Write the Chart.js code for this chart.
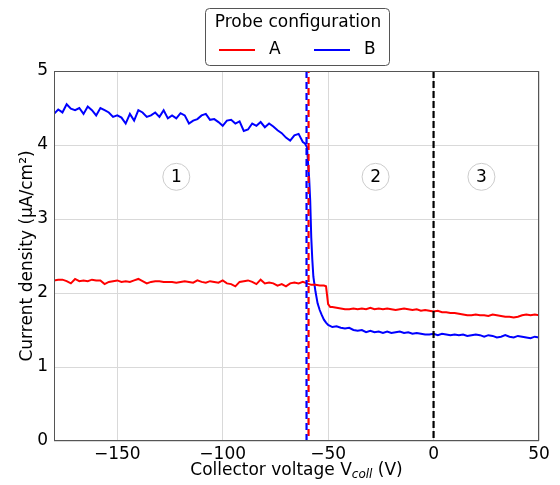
<!DOCTYPE html>
<html><head><meta charset="utf-8">
<script src="https://cdn.jsdelivr.net/npm/chart.js@4.4.1/dist/chart.umd.min.js"></script>
<style>html,body{margin:0;padding:0;background:#fff}#w{width:560px;height:485px}</style>
</head><body><div id="w"><canvas id="c" width="560" height="485"></canvas></div>
<script>
const seriesNames = ["A", "B"];
const seriesColors = ["#ff0000", "#0000ff"];
const xTicks = [-150, -100, -50, 0, 50];
const yTicks = [0, 1, 2, 3, 4, 5];
const regionLabels = ["1", "2", "3"];
const regionX = [-122, -27.5, 22.7];
const regionY = 3.57;
const markerX = [-60, 0];

const voltsA = [-180,-178,-176,-174,-172,-170,-168,-166,-164,-162,-160,-158,-156,-154,-152,-150,-148,-146,-144,-142,-140,-138,-136,-134,-132,-130,-128,-126,-124,-122,-120,-118,-116,-114,-112,-110,-108,-106,-104,-102,-100,-98,-96,-94,-92,-90,-88,-86,-84,-82,-80,-78,-76,-74,-72,-70,-68,-66,-64,-62,-60,-58,-56,-54,-52,-51,-50,-49,-48,-46,-44,-42,-40,-38,-36,-34,-32,-30,-28,-26,-24,-22,-20,-18,-16,-14,-12,-10,-8,-6,-4,-2,0,2,4,6,8,10,12,14,16,18,20,22,24,26,28,30,32,34,36,38,40,42,44,46,48,50];
const currentA = [2.17,2.18,2.18,2.16,2.13,2.19,2.16,2.17,2.16,2.18,2.17,2.17,2.12,2.15,2.16,2.17,2.15,2.16,2.15,2.17,2.19,2.16,2.13,2.15,2.16,2.16,2.15,2.15,2.15,2.14,2.15,2.16,2.15,2.14,2.17,2.15,2.14,2.16,2.15,2.14,2.17,2.13,2.12,2.09,2.15,2.16,2.17,2.15,2.12,2.18,2.13,2.14,2.13,2.10,2.12,2.09,2.13,2.14,2.13,2.15,2.13,2.11,2.11,2.10,2.10,2.09,1.85,1.81,1.81,1.80,1.79,1.78,1.78,1.79,1.78,1.79,1.78,1.80,1.78,1.79,1.78,1.79,1.78,1.77,1.78,1.79,1.78,1.77,1.78,1.76,1.77,1.76,1.75,1.76,1.74,1.74,1.73,1.73,1.72,1.71,1.70,1.70,1.71,1.70,1.70,1.69,1.71,1.70,1.69,1.68,1.68,1.67,1.68,1.70,1.71,1.70,1.71,1.70];

const voltsB = [-180,-178,-176,-174,-172,-170,-168,-166,-164,-162,-160,-158,-156,-154,-152,-150,-148,-146,-144,-142,-140,-138,-136,-134,-132,-130,-128,-126,-124,-122,-120,-118,-116,-114,-112,-110,-108,-106,-104,-102,-100,-98,-96,-94,-92,-90,-88,-86,-84,-82,-80,-78,-76,-74,-72,-70,-68,-66,-64,-62,-61,-60,-59.5,-59,-58.5,-58,-57.5,-57,-56,-55,-54,-53,-52,-51,-50,-48,-46,-44,-42,-40,-38,-36,-34,-32,-30,-28,-26,-24,-22,-20,-18,-16,-14,-12,-10,-8,-6,-4,-2,0,2,4,6,8,10,12,14,16,18,20,22,24,26,28,30,32,34,36,38,40,42,44,46,48,50];
const currentB = [4.42,4.48,4.44,4.55,4.49,4.47,4.50,4.42,4.52,4.47,4.40,4.50,4.47,4.44,4.38,4.40,4.37,4.29,4.42,4.33,4.47,4.44,4.38,4.40,4.44,4.38,4.47,4.36,4.40,4.36,4.43,4.40,4.29,4.33,4.35,4.40,4.42,4.34,4.35,4.31,4.26,4.33,4.34,4.29,4.32,4.19,4.21,4.29,4.26,4.31,4.24,4.29,4.25,4.20,4.16,4.10,4.06,4.13,4.15,4.04,4.02,3.97,3.75,3.55,3.25,2.75,2.45,2.22,2.02,1.86,1.77,1.70,1.64,1.60,1.57,1.54,1.55,1.53,1.52,1.53,1.50,1.49,1.50,1.47,1.49,1.47,1.48,1.46,1.48,1.46,1.47,1.48,1.46,1.47,1.45,1.46,1.45,1.44,1.44,1.45,1.43,1.45,1.44,1.43,1.44,1.43,1.44,1.42,1.43,1.44,1.43,1.41,1.43,1.42,1.40,1.41,1.43,1.41,1.40,1.42,1.41,1.40,1.39,1.41,1.40];

const FONT = "'DejaVu Sans', sans-serif";
const fmt = v => (v < 0 ? "\u2212" + Math.abs(v) : String(v));

const overlay = {
  id: 'overlay',
  afterDatasetsDraw(chart) {
    const ctx = chart.ctx, xs = chart.scales.x, ys = chart.scales.y, a = chart.chartArea;
    ctx.save();
    ctx.lineWidth = 2.2;
    const xm = xs.getPixelForValue(markerX[0]);
    ctx.setLineDash([7, 4]);
    ctx.strokeStyle = seriesColors[0];
    ctx.lineDashOffset = 5;
    ctx.beginPath(); ctx.moveTo(xm + 1.5, a.top); ctx.lineTo(xm + 1.5, a.bottom); ctx.stroke();
    ctx.strokeStyle = seriesColors[1];
    ctx.lineDashOffset = 0;
    ctx.beginPath(); ctx.moveTo(xm - 0.5, a.top); ctx.lineTo(xm - 0.5, a.bottom); ctx.stroke();
    const x0 = xs.getPixelForValue(markerX[1]);
    ctx.strokeStyle = '#000';
    ctx.setLineDash([7, 3]);
    ctx.beginPath(); ctx.moveTo(x0, a.top); ctx.lineTo(x0, a.bottom); ctx.stroke();
    ctx.setLineDash([]);
    regionLabels.forEach((t, i) => {
      const px = xs.getPixelForValue(regionX[i]), py = ys.getPixelForValue(regionY);
      ctx.beginPath(); ctx.arc(px, py, 13.5, 0, Math.PI * 2);
      ctx.fillStyle = '#fff'; ctx.fill();
      ctx.strokeStyle = '#cccccc'; ctx.lineWidth = 1; ctx.stroke();
      ctx.fillStyle = '#000'; ctx.font = "17px " + FONT;
      ctx.textAlign = 'center'; ctx.textBaseline = 'middle';
      ctx.fillText(t, px, py + 1);
    });
    ctx.strokeStyle = '#555'; ctx.lineWidth = 1;
    ctx.strokeRect(a.left + 0.5, a.top + 0.5, a.right - a.left - 1, a.bottom - a.top - 1);
    const cx = (a.left + a.right) / 2, ty = 469;
    const p1 = "Collector voltage V", p2 = "coll", p3 = " (V)";
    const f1 = "17px " + FONT, f2 = "italic 12px " + FONT;
    ctx.font = f1; const w1 = ctx.measureText(p1).width, w3 = ctx.measureText(p3).width;
    ctx.font = f2; const w2 = ctx.measureText(p2).width;
    let sx = cx - (w1 + w2 + w3) / 2;
    ctx.textAlign = 'left'; ctx.textBaseline = 'alphabetic'; ctx.fillStyle = '#000';
    ctx.font = f1; ctx.fillText(p1, sx, ty + 6); sx += w1;
    ctx.font = f2; ctx.fillText(p2, sx, ty + 9); sx += w2;
    ctx.font = f1; ctx.fillText(p3, sx, ty + 6);
    const lx = 205, ly = 8, lw = 184, lh = 57;
    ctx.beginPath();
    if (ctx.roundRect) ctx.roundRect(lx + 0.5, ly + 0.5, lw, lh, 4); else ctx.rect(lx + 0.5, ly + 0.5, lw, lh);
    ctx.fillStyle = '#fff'; ctx.fill();
    ctx.strokeStyle = '#555'; ctx.lineWidth = 1; ctx.stroke();
    ctx.fillStyle = '#000'; ctx.font = "17px " + FONT; ctx.textAlign = 'center'; ctx.textBaseline = 'middle';
    ctx.fillText("Probe configuration", lx + lw / 2 + 1, ly + 15);
    const entryX = [219, 314];
    seriesNames.forEach((n, i) => {
      ctx.strokeStyle = seriesColors[i]; ctx.lineWidth = 2;
      ctx.beginPath(); ctx.moveTo(entryX[i], 50); ctx.lineTo(entryX[i] + 36, 50); ctx.stroke();
      ctx.fillStyle = '#000'; ctx.textAlign = 'left';
      ctx.fillText(n, entryX[i] + 50, 50);
    });
    ctx.restore();
  }
};

const mk = (xsArr, ysArr) => xsArr.map((v, i) => ({x: v, y: ysArr[i]}));

new Chart(document.getElementById('c'), {
  type: 'line',
  data: {
    datasets: [
      {label: seriesNames[0], data: mk(voltsA, currentA), borderColor: seriesColors[0], borderWidth: 2, pointRadius: 0, tension: 0, fill: false},
      {label: seriesNames[1], data: mk(voltsB, currentB), borderColor: seriesColors[1], borderWidth: 2, pointRadius: 0, tension: 0, fill: false}
    ]
  },
  options: {
    responsive: false, animation: false, devicePixelRatio: 1,
    layout: {padding: {left: 0, top: 71, right: 21, bottom: 0}},
    plugins: {legend: {display: false}, tooltip: {enabled: false}},
    scales: {
      x: {
        type: 'linear', min: -180, max: 50,
        afterBuildTicks: s => { s.ticks = xTicks.map(v => ({value: v})); },
        afterFit: s => { s.height = 44; },
        grid: {color: '#d9d9d9', lineWidth: 1, drawTicks: false},
        border: {display: false},
        ticks: {padding: 3, color: '#000', font: {family: FONT, size: 17}, callback: v => fmt(v), maxRotation: 0}
      },
      y: {
        type: 'linear', min: 0, max: 5,
        afterBuildTicks: s => { s.ticks = yTicks.map(v => ({value: v})); },
        afterFit: s => { s.width = 54; },
        grid: {color: '#d9d9d9', lineWidth: 1, drawTicks: false},
        border: {display: false},
        title: {display: true, text: "Current density (\u03bcA/cm\u00b2)", color: '#000', font: {family: FONT, size: 17}, padding: {top: 17, bottom: 0}},
        ticks: {padding: 6, color: '#000', font: {family: FONT, size: 17}, callback: v => fmt(v)}
      }
    }
  },
  plugins: [overlay]
});
</script>
</body></html>
